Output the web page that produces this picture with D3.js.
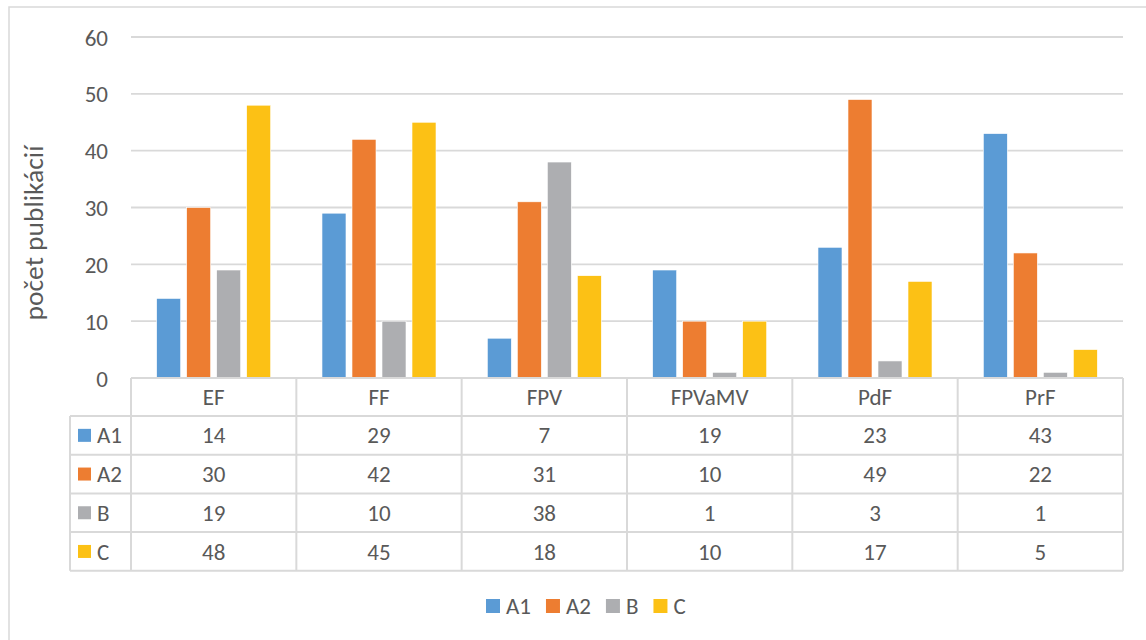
<!DOCTYPE html>
<html><head><meta charset="utf-8">
<script src="https://cdn.jsdelivr.net/npm/d3@7"></script>
<style>body{margin:0;background:#fff}svg{display:block}text{font-family:Carlito,Lato,"Open Sans",sans-serif;fill:#595959}</style>
</head><body><svg id="c" width="1146" height="640"></svg>
<script>
const categories = ["EF","FF","FPV","FPVaMV","PdF","PrF"];
const seriesNames = ["A1","A2","B","C"];
const A1 = [14,29,7,19,23,43];
const A2 = [30,42,31,10,49,22];
const B  = [19,10,38,1,3,1];
const C  = [48,45,18,10,17,5];
const seriesValues = [A1,A2,B,C];
const yTicks = [0,10,20,30,40,50,60];
const colors = ["#5b9bd5","#ed7d31","#adaeb1","#fcc115"];

const svg = d3.select("#c");
const fs = 23;
const pLeft = 131, pRight = 1123, pTop = 37, base = 378;
svg.append("rect").attr("x",9).attr("y",7).attr("width",1150).attr("height",650)
  .attr("fill","#fff").attr("stroke","#d9d9d9").attr("stroke-width",1.5);

const x = d3.scaleBand().domain(categories).range([pLeft,pRight]).paddingInner(0).paddingOuter(0);
const y = d3.scaleLinear().domain([0,60]).range([base,pTop]);
const xs = d3.scaleBand().domain(seriesNames).range([0,x.bandwidth()]).paddingOuter(0.855).paddingInner(0.2);

// gridlines
svg.append("g").selectAll("line").data(yTicks.filter(d=>d>0)).join("line")
  .attr("x1",pLeft).attr("x2",pRight).attr("y1",d=>y(d)).attr("y2",d=>y(d))
  .attr("stroke","#d9d9d9").attr("stroke-width",1.8);

// y axis labels
const yAxis = d3.axisLeft(y).tickValues(yTicks).tickSize(0).tickPadding(0);
const ga = svg.append("g").attr("transform",`translate(108,0)`).call(yAxis);
ga.select(".domain").remove();
ga.selectAll("text").attr("font-size",fs).attr("fill","#595959").style("font-family","Carlito,Lato,sans-serif").attr("dy","0.35em");

// y title
svg.append("text").attr("transform","translate(33,233) rotate(-90)").attr("text-anchor","middle")
  .attr("dy","0.35em").attr("font-size",27.5).text("počet publikácií");

// bars
seriesNames.forEach((s,si)=>{
  svg.append("g").selectAll("rect").data(categories).join("rect")
    .attr("x",c=>x(c)+xs(s)).attr("width",xs.bandwidth())
    .attr("y",(c,i)=>y(seriesValues[si][i])).attr("height",(c,i)=>base-y(seriesValues[si][i]))
    .attr("fill",colors[si]).attr("stroke","#fff").attr("stroke-width",0.6);
});

// data table
const rowTop = [378,416];
const rowH = 38.7;
for(let i=1;i<=4;i++) rowTop.push(416+i*rowH);
const tg = svg.append("g").attr("stroke","#d9d9d9").attr("stroke-width",2);
tg.append("line").attr("x1",pLeft).attr("x2",pRight).attr("y1",base).attr("y2",base);
rowTop.slice(1).forEach(yy=>tg.append("line").attr("x1",70).attr("x2",pRight).attr("y1",yy).attr("y2",yy));
categories.concat(["_end"]).forEach((c,i)=>{
  const xx = pLeft + i*x.bandwidth();
  tg.append("line").attr("x1",xx).attr("x2",xx).attr("y1",base).attr("y2",rowTop[5]);
});
tg.append("line").attr("x1",70).attr("x2",70).attr("y1",416).attr("y2",rowTop[5]);

svg.append("g").selectAll("text").data(categories).join("text")
  .attr("x",c=>x(c)+x.bandwidth()/2).attr("y",(rowTop[0]+rowTop[1])/2).attr("dy","0.35em")
  .attr("text-anchor","middle").attr("font-size",fs).text(c=>c);

seriesNames.forEach((s,si)=>{
  const cy = (rowTop[si+1]+rowTop[si+2])/2;
  svg.append("rect").attr("x",78).attr("y",cy-6.5).attr("width",13).attr("height",13).attr("fill",colors[si]);
  svg.append("text").attr("x",97).attr("y",cy).attr("dy","0.35em").attr("font-size",fs).text(s);
  svg.append("g").selectAll("text").data(categories).join("text")
    .attr("x",c=>x(c)+x.bandwidth()/2).attr("y",cy).attr("dy","0.35em")
    .attr("text-anchor","middle").attr("font-size",fs).text((c,i)=>seriesValues[si][i]);
});

// legend
let lx = 486; const ly = 606;
seriesNames.forEach((s,si)=>{
  svg.append("rect").attr("x",lx).attr("y",ly-7).attr("width",14).attr("height",14).attr("fill",colors[si]);
  const t = svg.append("text").attr("x",lx+20).attr("y",ly).attr("dy","0.35em").attr("font-size",fs).text(s);
  lx += 20 + t.node().getComputedTextLength() + 15;
});
</script></body></html>
